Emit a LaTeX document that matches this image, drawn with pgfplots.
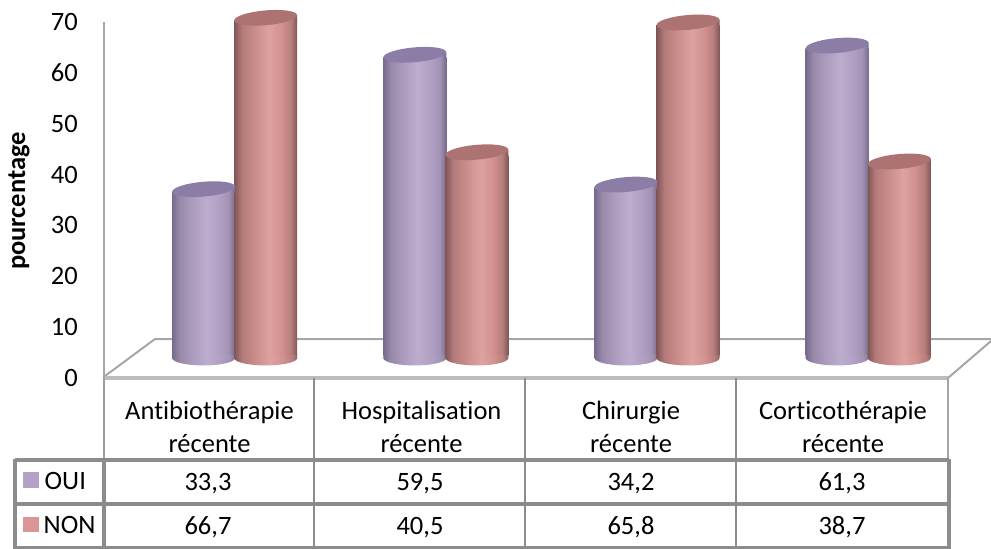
\documentclass[border=0pt]{standalone}
\usepackage{pgfplots}
\pgfplotsset{compat=1.18}
\usepackage{pgfplotstable}
\usepackage{fontspec}
\setmainfont{Carlito}[Ligatures=NoCommon]

% Percentages per risk factor
\pgfplotstableread{
oui   non
33.3  66.7
59.5  40.5
34.2  65.8
61.3  38.7
}\risktable

\definecolor{gridgrey}{HTML}{A6A6A6}
\definecolor{rulegrey}{HTML}{8C8C8C}
\definecolor{keyviolet}{HTML}{B3A2C7}
\definecolor{keypink}{HTML}{D99694}
\definecolor{capviolet}{HTML}{8B7DA6}
\definecolor{cappink}{HTML}{AD7272}

% Side lighting of the cylinders
\pgfdeclarehorizontalshading{cylviolet}{100bp}{
  color(0bp)=(capviolet!85!black);
  color(25bp)=(capviolet!85!black);
  color(31bp)=(keyviolet!85!black);
  color(40bp)=(keyviolet!95!black);
  color(52bp)=(keyviolet!88!white);
  color(63bp)=(keyviolet!98!black);
  color(70bp)=(keyviolet!90!black);
  color(75bp)=(capviolet!85!black);
  color(100bp)=(capviolet!85!black)}
\pgfdeclarehorizontalshading{cylpink}{100bp}{
  color(0bp)=(cappink!75!black);
  color(25bp)=(cappink!75!black);
  color(31bp)=(keypink!82!black);
  color(40bp)=(keypink!92!black);
  color(53bp)=(keypink!88!white);
  color(63bp)=(keypink!96!black);
  color(70bp)=(keypink!84!black);
  color(75bp)=(cappink!75!black);
  color(100bp)=(cappink!75!black)}

% End pieces of a cylinder: tilted ellipses, with a sliver joining them to the bar
\newcommand{\declarecylinderends}[3]{%
  \pgfdeclareplotmark{#1top}{%
    \path[draw=none, shading=#2] (-31.5pt,-4pt) -- (31.5pt,-4pt) -- (31.5pt,2.8pt) -- (-31.5pt,-2.8pt) -- cycle;
    \pgfsetfillcolor{#3}%
    \pgfpathellipse{\pgfpointorigin}{\pgfpoint{31.4pt}{2.75pt}}{\pgfpoint{-0.64pt}{7.37pt}}%
    \pgfusepathqfill
  }%
  \pgfdeclareplotmark{#1bottom}{%
    \path[draw=none, shading=#2] (-31.5pt,5pt) -- (31.5pt,5pt) -- (31.5pt,2.8pt)
      arc [start angle=5, end angle=-175, x radius=31.6pt, y radius=7.6pt]
      -- cycle;
  }%
}
\declarecylinderends{violet}{cylviolet}{capviolet}
\declarecylinderends{pink}{cylpink}{cappink}

% One cylinder: row #1 of column #2, placed at category + #4, in the lighting #3
\newcommand{\cylinder}[5]{%
  \addplot[ybar, bar width=63pt, bar shift=0pt, draw=none, shading=cyl#3,
    skip coords between index={0}{#1}, skip coords between index={#5}{4}]
    table[x expr=\coordindex#4, y expr=\thisrow{#2}-0.6] {\risktable};
  \addplot[only marks, mark=#3bottom, draw=none,
    skip coords between index={0}{#1}, skip coords between index={#5}{4}]
    table[x expr=\coordindex#4, y expr=0] {\risktable};
  \addplot[only marks, mark=#3top, draw=none,
    skip coords between index={0}{#1}, skip coords between index={#5}{4}]
    table[x expr=\coordindex#4, y=#2] {\risktable};
}

\begin{document}
\begin{tikzpicture}
\path[use as bounding box] (0,0) rectangle (991pt,549pt);

% Floor of the chart and the data table, in a frame measured from the top left
\begin{axis}[
  at={(0pt,0pt)}, anchor=south west, width=991pt, height=549pt, scale only axis,
  xmin=0, xmax=991, ymin=0, ymax=549, y dir=reverse, hide axis, clip=false]
  \draw[gridgrey, line width=2pt, line cap=round] (105,376) -- (155,339) -- (991,339);
  \draw[gridgrey, line width=2pt] (948,378) -- (991,341);
  \draw[gridgrey!75!white, line width=3.5pt] (104,378) -- (948,378);
  \draw[rulegrey!85!white, line width=2.4pt] (104,378) -- (104,460);
  \draw[rulegrey, line width=2.8pt] (314,378) -- (314,548);
  \draw[rulegrey, line width=2.8pt] (525,378) -- (525,548);
  \draw[rulegrey, line width=2.8pt] (736,378) -- (736,548);
  \draw[gridgrey, line width=2.4pt] (948,378) -- (948,460);
  \draw[rulegrey, line width=3.2pt] (15,460) -- (949,460);
  \draw[rulegrey, line width=3.2pt] (15,504) -- (949,504);
  \draw[rulegrey, line width=3.2pt] (15,548) -- (949,548);
  \draw[rulegrey, line width=3.2pt] (15,459) -- (15,549);
  \draw[rulegrey, line width=3.2pt] (104,460) -- (104,549);
  \draw[rulegrey, line width=3.2pt] (949,459) -- (949,549);
  \fill[keyviolet] (23,472) rectangle (39,488);
  \fill[keypink] (23,516.5) rectangle (39,532);
  \begin{scope}[every node/.style={font=\fontsize{26.5}{28}\selectfont, inner sep=0pt, anchor=base}]
    \node[anchor=base west] at (44.5,489) {OUI};
    \node[anchor=base west] at (43.5,533) {NON};
    \node at (209.5,419.5) {Antibiothérapie};
    \node at (209.5,452) {récente};
    \node at (421.5,419.5) {Hospitalisation};
    \node at (421.5,452) {récente};
    \node at (631,419.5) {Chirurgie};
    \node at (631,452) {récente};
    \node at (843,419.5) {Corticothérapie};
    \node at (843,452) {récente};
    \node at (208,490) {33,3};
    \node at (420,490) {59,5};
    \node at (631,490) {34,2};
    \node at (842,490) {61,3};
    \node at (208,534) {66,7};
    \node at (420,534) {40,5};
    \node at (631,534) {65,8};
    \node at (842,534) {38,7};
  \end{scope}
  \node[rotate=90, font=\fontsize{26.5}{28}\selectfont\bfseries, inner sep=0pt] at (19,201) {pourcentage};
\end{axis}

% Back wall with the percentage scale
\begin{axis}[
  at={(104pt,171pt)}, anchor=south west, width=100pt, height=356pt, scale only axis,
  xmin=0, xmax=1, ymin=0, ymax=70,
  axis x line=none, axis y line*=left,
  axis line style={gridgrey, line width=2.4pt, -},
  ytick={0,10,...,70}, major tick length=0pt,
  /pgf/number format/assume math mode=true,
  yticklabel style={font=\fontsize{26.5}{28}\selectfont, text=black, inner sep=0pt, xshift=-26pt}]
  \addplot[draw=none] coordinates {(0,0) (1,70)};
\end{axis}

% Cylinders: one bar and two end pieces for each value
\begin{axis}[
  at={(129pt,193.1pt)}, anchor=south west, width=844.8pt, height=355pt, scale only axis,
  xmin=-0.5, xmax=3.5, ymin=0.8, ymax=70, hide axis, clip=false]
  \cylinder{0}{oui}{violet}{-0.147}{1}
  \cylinder{0}{non}{pink}{+0.147}{1}
  \cylinder{1}{oui}{violet}{-0.147}{2}
  \cylinder{1}{non}{pink}{+0.147}{2}
  \cylinder{2}{oui}{violet}{-0.147}{3}
  \cylinder{2}{non}{pink}{+0.147}{3}
  \cylinder{3}{oui}{violet}{-0.147}{4}
  \cylinder{3}{non}{pink}{+0.147}{4}
\end{axis}
\end{tikzpicture}
\end{document}
